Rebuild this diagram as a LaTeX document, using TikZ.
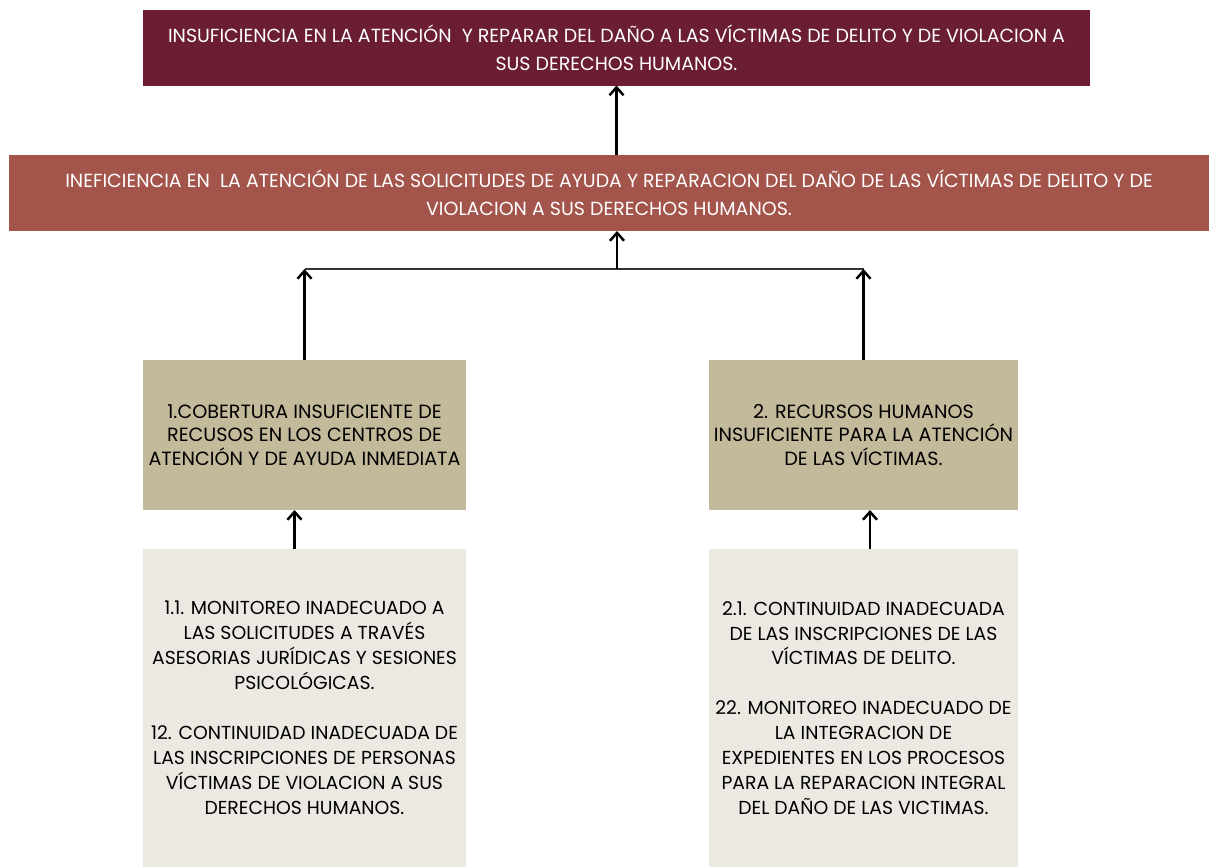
\documentclass[tikz,border=0pt]{standalone}
\usepackage{fontspec}
\setmainfont{Poppins}
\usetikzlibrary{arrows.meta}
\definecolor{vino}{HTML}{6A1D33}
\definecolor{ladrillo}{HTML}{A3544B}
\definecolor{arena}{HTML}{C3B99B}
\definecolor{hueso}{HTML}{ECE9E3}
\tikzset{
  caja/.style={rectangle,inner sep=0pt,outer sep=0pt,align=center},
  efectocaja/.style={caja,fill=vino,text=white,font=\fontsize{10.8}{16}\selectfont},
  problemacaja/.style={efectocaja,fill=ladrillo},
  causacaja/.style={caja,fill=arena,font=\fontsize{10.9}{13.5}\selectfont},
  subcaja/.style={caja,fill=hueso,font=\fontsize{10.7}{14.2}\selectfont},
  flecha/.style={-{Straight Barb[length=4.5pt,width=8pt]},line width=1.4pt},
  linea/.style={line width=0.7pt,black!80}
}
\begin{document}
\begin{tikzpicture}[x=0.02cm,y=-0.02cm]
\useasboundingbox (0,0) rectangle (1209,867);
\node[efectocaja,minimum width=18.94cm,minimum height=1.52cm] (efecto) at (616.5,47.5)
  {INSUFICIENCIA EN LA ATENCIÓN \ Y REPARAR DEL DAÑO A LAS VÍCTIMAS DE DELITO Y DE VIOLACION A\\SUS DERECHOS HUMANOS.};
\node[problemacaja,minimum width=24cm,minimum height=1.52cm] (problema) at (609,193)
  {INEFICIENCIA EN \ LA ATENCIÓN DE LAS SOLICITUDES DE AYUDA Y REPARACION DEL DAÑO DE LAS VÍCTIMAS DE DELITO Y DE\\VIOLACION A SUS DERECHOS HUMANOS.};
\node[causacaja,minimum width=6.46cm,minimum height=3cm] (causaA) at (304.5,435)
  {1.COBERTURA INSUFICIENTE DE\\RECUSOS EN LOS CENTROS DE\\ATENCIÓN Y DE AYUDA INMEDIATA};
\node[causacaja,minimum width=6.18cm,minimum height=3cm] (causaB) at (863.5,435)
  {2. RECURSOS HUMANOS\\INSUFICIENTE PARA LA ATENCIÓN\\DE LAS VÍCTIMAS.};
\node[subcaja,minimum width=6.46cm,minimum height=6.36cm] (subA) at (304.5,708)
  {1.1. MONITOREO INADECUADO A\\LAS SOLICITUDES A TRAVÉS\\ASESORIAS JURÍDICAS Y SESIONES\\PSICOLÓGICAS.\\[14.2pt]
   12. CONTINUIDAD INADECUADA DE\\LAS INSCRIPCIONES DE PERSONAS\\VÍCTIMAS DE VIOLACION A SUS\\DERECHOS HUMANOS.};
\node[subcaja,minimum width=6.18cm,minimum height=6.36cm] (subB) at (863.5,708)
  {2.1. CONTINUIDAD INADECUADA\\DE LAS INSCRIPCIONES DE LAS\\VÍCTIMAS DE DELITO.\\[14.2pt]
   22. MONITOREO INADECUADO DE\\LA INTEGRACION DE\\EXPEDIENTES EN LOS PROCESOS\\PARA LA REPARACION INTEGRAL\\DEL DAÑO DE LAS VICTIMAS.};
% union de las causas
\coordinate (union) at (617,269);
\draw[linea] (causaA.north |- union) -- (causaB.north |- union);
\draw[flecha] (causaA.north) -- (causaA.north |- union);
\draw[flecha] (causaB.north) -- (causaB.north |- union);
\draw[flecha] (union) -- (union |- problema.south);
\draw[flecha] (efecto.south |- problema.north) -- (efecto.south);
\draw[flecha] ([xshift=-0.2cm]subA.north) -- ([xshift=-0.2cm]subA.north |- causaA.south);
\draw[flecha] ([xshift=0.13cm]subB.north) -- ([xshift=0.13cm]subB.north |- causaB.south);
\end{tikzpicture}
\end{document}
